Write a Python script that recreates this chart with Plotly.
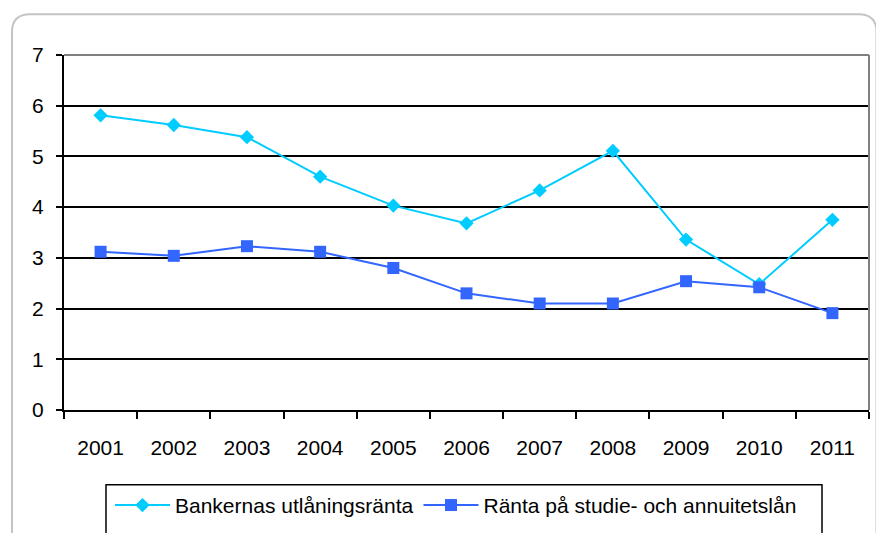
import plotly.graph_objects as go

# Years and interest rates (percent)
years = ["2001", "2002", "2003", "2004", "2005", "2006", "2007", "2008", "2009", "2010", "2011"]
bank_rate = [5.81, 5.62, 5.38, 4.60, 4.03, 3.68, 4.33, 5.11, 3.36, 2.48, 3.75]
study_rate = [3.12, 3.04, 3.23, 3.12, 2.80, 2.30, 2.10, 2.10, 2.54, 2.42, 1.91]
series_names = ["Bankernas utlåningsränta", "Ränta på studie- och annuitetslån"]

W, H = 876, 533
L, R, T, B = 64, 7, 55, 117
PW, PH = W - L - R, H - T - B


def px(x):
    return (x - L) / PW


def py(y):
    return (H - B - y) / PH


FONT = "Liberation Sans, Arial, sans-serif"
FS = 21

fig = go.Figure()
fig.add_trace(go.Scatter(
    x=years, y=bank_rate, name=series_names[0], mode="lines+markers",
    legendgroup="a",
    line=dict(color="#00CCFF", width=2),
    marker=dict(symbol="diamond", size=11, color="#00CCFF"),
))
fig.add_trace(go.Scatter(
    x=years, y=study_rate, name=series_names[1], mode="lines+markers",
    legendgroup="b",
    line=dict(color="#3366FF", width=2),
    marker=dict(symbol="square", size=12, color="#3366FF"),
))

# Rounded outer frame of the chart (bottom runs off the page)
x0, x1, y0, y1, r = 12, 876.5, 13.5, 560, 18
frame = (
    f"M {px(x0)},{py(y1)} L {px(x0)},{py(y0 + r)} "
    f"Q {px(x0)},{py(y0)} {px(x0 + r)},{py(y0)} "
    f"L {px(x1 - r)},{py(y0)} "
    f"Q {px(x1)},{py(y0)} {px(x1)},{py(y0 + r)} "
    f"L {px(x1)},{py(y1)}"
)
shapes = [
    dict(type="path", xref="paper", yref="paper", path=frame,
         line=dict(color="#C4C4C4", width=2), layer="below"),
    # plot-area border: top and right edges in grey
    dict(type="line", xref="paper", yref="paper", x0=0, x1=1, y0=1, y1=1,
         line=dict(color="#808080", width=2), layer="above"),
    dict(type="line", xref="paper", yref="paper", x0=1, x1=1, y0=0, y1=1,
         line=dict(color="#808080", width=2), layer="above"),
    # legend box
    dict(type="rect", xref="paper", yref="paper",
         x0=px(106), x1=px(822), y0=py(560), y1=py(492),
         line=dict(color="black", width=1.5), layer="below"),
]

fig.update_layout(
    width=W, height=H,
    margin=dict(l=L, r=R, t=T, b=B),
    paper_bgcolor="white", plot_bgcolor="white",
    font=dict(family=FONT, size=FS, color="black"),
    shapes=shapes,
    showlegend=True,
    legend=dict(
        orientation="h", x=px(110), y=py(513), xanchor="left", yanchor="middle",
        font=dict(family=FONT, size=FS, color="black"),
        bgcolor="rgba(0,0,0,0)", borderwidth=0,
        itemwidth=55, tracegroupgap=14,
    ),
    xaxis=dict(
        type="category", tickson="boundaries", ticks="outside", ticklen=7,
        tickcolor="black", tickwidth=2, showline=True, linecolor="black", linewidth=2,
        showgrid=False, zeroline=False, ticklabelstandoff=18,
        tickfont=dict(family=FONT, size=FS),
        range=[-0.5, 10.5],
    ),
    yaxis=dict(
        range=[0, 7], dtick=1, ticks="outside", ticklen=6, tickcolor="black", tickwidth=2,
        showline=True, linecolor="black", linewidth=2,
        showgrid=True, gridcolor="black", gridwidth=2, zeroline=False,
        ticklabelstandoff=8, tickfont=dict(family=FONT, size=FS),
    ),
)

fig.write_html("out.html")
